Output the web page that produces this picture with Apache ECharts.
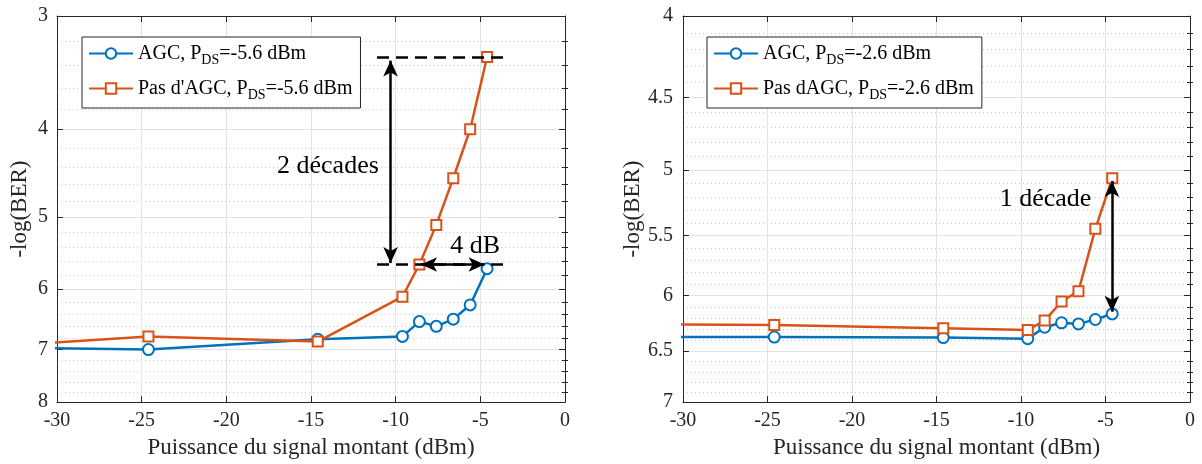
<!DOCTYPE html>
<html>
<head>
<meta charset="utf-8">
<script src="https://cdn.jsdelivr.net/npm/echarts@6/dist/echarts.min.js"></script>
<style>
  html, body { margin: 0; padding: 0; background: #fff; }
  #chart { width: 1202px; height: 464px; }
</style>
</head>
<body>
<div id="chart"></div>
<script>
// ---------- data ----------
const powerDbm = [-34.6, -24.6, -14.6, -9.6, -8.6, -7.6, -6.6, -5.6, -4.6];

const leftAgc   = [6.96, 7.00, 6.82, 6.77, 6.52, 6.60, 6.48, 6.25, 5.70];
const leftNoAgc = [6.96, 6.77, 6.86, 6.12, 5.64, 5.10, 4.53, 4.00, 3.33];

const rightAgc   = [6.37, 6.37, 6.375, 6.385, 6.28, 6.24, 6.25, 6.21, 6.16];
const rightNoAgc = [6.25, 6.26, 6.29, 6.305, 6.22, 6.05, 5.96, 5.445, 5.06];

const leftNames  = ['AGC, P_DS=-5.6 dBm', "Pas d'AGC, P_DS=-5.6 dBm"];
const rightNames = ['AGC, P_DS=-2.6 dBm', 'Pas dAGC, P_DS=-2.6 dBm'];

const xTicks = [-30, -25, -20, -15, -10, -5, 0];
const leftYMajor  = [3, 4, 5, 6, 7, 8];
const leftYMinor  = [3.2, 3.4, 3.6, 3.8, 4.2, 4.4, 4.6, 4.8, 5.2, 5.4, 5.6, 5.8,
                     6.2, 6.4, 6.6, 6.8, 7.2, 7.4, 7.6, 7.8];
const rightYMajor = [4, 4.5, 5, 5.5, 6, 6.5, 7];
const rightYMinor = [4.1, 4.2, 4.3, 4.4, 4.6, 4.7, 4.8, 4.9, 5.1, 5.2, 5.3, 5.4,
                     5.6, 5.7, 5.8, 5.9, 6.1, 6.2, 6.3, 6.4, 6.6, 6.7, 6.8, 6.9];

const xTitle = 'Puissance du signal montant (dBm)';
const yTitle = '-log(BER)';

// annotations
const leftDecadeText = '2 décades';
const leftDbText = '4 dB';
const rightDecadeText = '1 décade';

// ---------- styling ----------
const FONT = '"Liberation Serif", "Times New Roman", serif';
const AX = '#262626';
const GRID = '#e3e3e3';
const MINOR = '#c8c8c8';
const BLUE = '#0072BD';
const ORANGE = '#D95319';

function zip(xs, ys) { return xs.map((x, i) => [x, ys[i]]); }
function fmtY(v) { return String(Math.round(v * 10) / 10); }

function xAxes(gi) {
  return [
    {
      type: 'value', gridIndex: gi, min: xTicks[0], max: xTicks[xTicks.length - 1], interval: 5, position: 'bottom',
      name: xTitle, nameLocation: 'middle', nameGap: 33,
      nameTextStyle: { fontFamily: FONT, fontSize: 23, color: AX },
      axisLine: { show: true, onZero: false, lineStyle: { color: AX, width: 1 } },
      axisTick: { show: true, inside: true, length: 6, lineStyle: { color: AX } },
      axisLabel: { fontFamily: FONT, fontSize: 20, color: AX, margin: 9 },
      splitLine: { show: true, lineStyle: { color: GRID, width: 1 } }
    },
    {
      type: 'value', gridIndex: gi, min: xTicks[0], max: xTicks[xTicks.length - 1], interval: 5, position: 'top',
      axisLine: { show: true, onZero: false, lineStyle: { color: AX, width: 1 } },
      axisTick: { show: true, inside: true, length: 6, lineStyle: { color: AX } },
      axisLabel: { show: false },
      splitLine: { show: false }
    }
  ];
}

function yAxes(gi, min, max, major, minor, nameGap, labelMargin) {
  const base = { type: 'log', logBase: 10, gridIndex: gi, min: min, max: max, inverse: true };
  return [
    Object.assign({}, base, {
      position: 'left',
      name: yTitle, nameLocation: 'middle', nameGap: nameGap, nameRotate: 90,
      nameTextStyle: { fontFamily: FONT, fontSize: 23, color: AX },
      axisLine: { show: true, onZero: false, lineStyle: { color: AX, width: 1 } },
      axisTick: { show: true, inside: true, length: 6, customValues: major, lineStyle: { color: AX } },
      axisLabel: { show: true, customValues: major, formatter: fmtY,
                   fontFamily: FONT, fontSize: 20, color: AX, margin: labelMargin },
      splitLine: { show: true, lineStyle: { color: GRID, width: 1 } }
    }),
    Object.assign({}, base, {
      position: 'right',
      axisLine: { show: true, onZero: false, lineStyle: { color: AX, width: 1 } },
      axisTick: { show: true, inside: true, length: 6, customValues: major, lineStyle: { color: AX } },
      axisLabel: { show: false },
      splitLine: { show: false }
    }),
    Object.assign({}, base, {
      position: 'left',
      axisLine: { show: false },
      axisTick: { show: true, inside: true, length: 3, customValues: minor, lineStyle: { color: AX } },
      axisLabel: { show: false },
      splitLine: { show: true, lineStyle: { color: MINOR, width: 1, type: [1, 3] } }
    }),
    Object.assign({}, base, {
      position: 'right',
      axisLine: { show: false },
      axisTick: { show: true, inside: true, length: 3, customValues: minor, lineStyle: { color: AX } },
      axisLabel: { show: false },
      splitLine: { show: false }
    })
  ];
}

function lineSeries(name, data, xi, yi, color, symbol) {
  return {
    type: 'line', name: name, xAxisIndex: xi, yAxisIndex: yi,
    data: data, clip: true,
    symbol: symbol, symbolSize: symbol === 'emptyCircle' ? 11 : 10,
    showAllSymbol: true,
    lineStyle: { color: color, width: 2.5 },
    itemStyle: { color: color, borderColor: color, borderWidth: 2.2 },
    emphasis: { disabled: true },
    z: 3
  };
}

const arrowLine = { color: '#000', width: 2.5, type: 'solid' };
const dashLine  = { color: '#000', width: 2.5, type: [12, 7] };

function textPoint(coord, text) {
  return {
    coord: coord, symbol: 'circle', symbolSize: 1,
    itemStyle: { color: 'rgba(0,0,0,0)' },
    label: { show: true, position: 'inside', formatter: text,
             fontFamily: FONT, fontSize: 26, color: '#000' }
  };
}

function legendFmt(name) {
  const parts = name.split('_DS');
  return '{a|' + parts[0] + '}{s|DS}{a|' + parts[1] + '}';
}
const legendRich = {
  a: { fontFamily: FONT, fontSize: 20, color: '#000', lineHeight: 22 },
  s: { fontFamily: FONT, fontSize: 14, color: '#000', lineHeight: 14, padding: [13, 0, 0, 0] }
};

function legend(left, names) {
  return {
    orient: 'vertical', left: left, top: 37,
    data: names,
    itemWidth: 44, itemHeight: 13, itemGap: 8,
    padding: [3, 8, 6, 6],
    borderColor: AX, borderWidth: 1, backgroundColor: '#fff',
    selectedMode: false,
    formatter: legendFmt,
    textStyle: { fontFamily: FONT, fontSize: 20, color: '#000', rich: legendRich }
  };
}

const option = {
  animation: false,
  backgroundColor: '#fff',
  grid: [
    { left: 57, top: 16, width: 508, height: 387 },
    { left: 683, top: 16, width: 507, height: 387 }
  ],
  xAxis: xAxes(0).concat(xAxes(1)),
  yAxis: yAxes(0, 3, 8, leftYMajor, leftYMinor, 26, 9)
    .concat(yAxes(1, 4, 7, rightYMajor, rightYMinor, 32, 10)),
  legend: [legend(82, leftNames), legend(707, rightNames)],
  series: [
    lineSeries(leftNames[0], zip(powerDbm, leftAgc), 0, 0, BLUE, 'emptyCircle'),
    Object.assign(lineSeries(leftNames[1], zip(powerDbm, leftNoAgc), 0, 0, ORANGE, 'emptyRect'), {
      markLine: {
        silent: true, symbol: ['none', 'none'], label: { show: false },
        lineStyle: dashLine, emphasis: { disabled: true },
        data: [
          [{ coord: [-11.1, 3.33] }, { coord: [-3.3, 3.33] }],
          [{ coord: [-11.1, 5.64] }, { coord: [-3.3, 5.64] }]
        ]
      },
      markPoint: {
        silent: true,
        data: [ textPoint([-14.0, 4.39], leftDecadeText), textPoint([-5.3, 5.38], leftDbText) ]
      }
    }),
    {
      type: 'line', name: 'arrowsLeft', xAxisIndex: 0, yAxisIndex: 0, data: [],
      markLine: {
        silent: true, symbol: ['arrow', 'arrow'], symbolSize: [11, 16],
        label: { show: false }, lineStyle: arrowLine, emphasis: { disabled: true },
        data: [
          [{ coord: [-10.3, 3.36] }, { coord: [-10.3, 5.62] }],
          [{ coord: [-8.5, 5.64] }, { coord: [-4.75, 5.64] }]
        ]
      }
    },
    lineSeries(rightNames[0], zip(powerDbm, rightAgc), 2, 4, BLUE, 'emptyCircle'),
    Object.assign(lineSeries(rightNames[1], zip(powerDbm, rightNoAgc), 2, 4, ORANGE, 'emptyRect'), {
      markPoint: {
        silent: true,
        data: [ textPoint([-8.55, 5.22], rightDecadeText) ]
      }
    }),
    {
      type: 'line', name: 'arrowsRight', xAxisIndex: 2, yAxisIndex: 4, data: [],
      markLine: {
        silent: true, symbol: ['arrow', 'arrow'], symbolSize: [11, 16],
        label: { show: false }, lineStyle: arrowLine, emphasis: { disabled: true },
        data: [
          [{ coord: [-4.62, 5.08] }, { coord: [-4.62, 6.14] }]
        ]
      }
    }
  ]
};

const chart = echarts.init(document.getElementById('chart'), null, { renderer: 'canvas' });
chart.setOption(option);
</script>
</body>
</html>
